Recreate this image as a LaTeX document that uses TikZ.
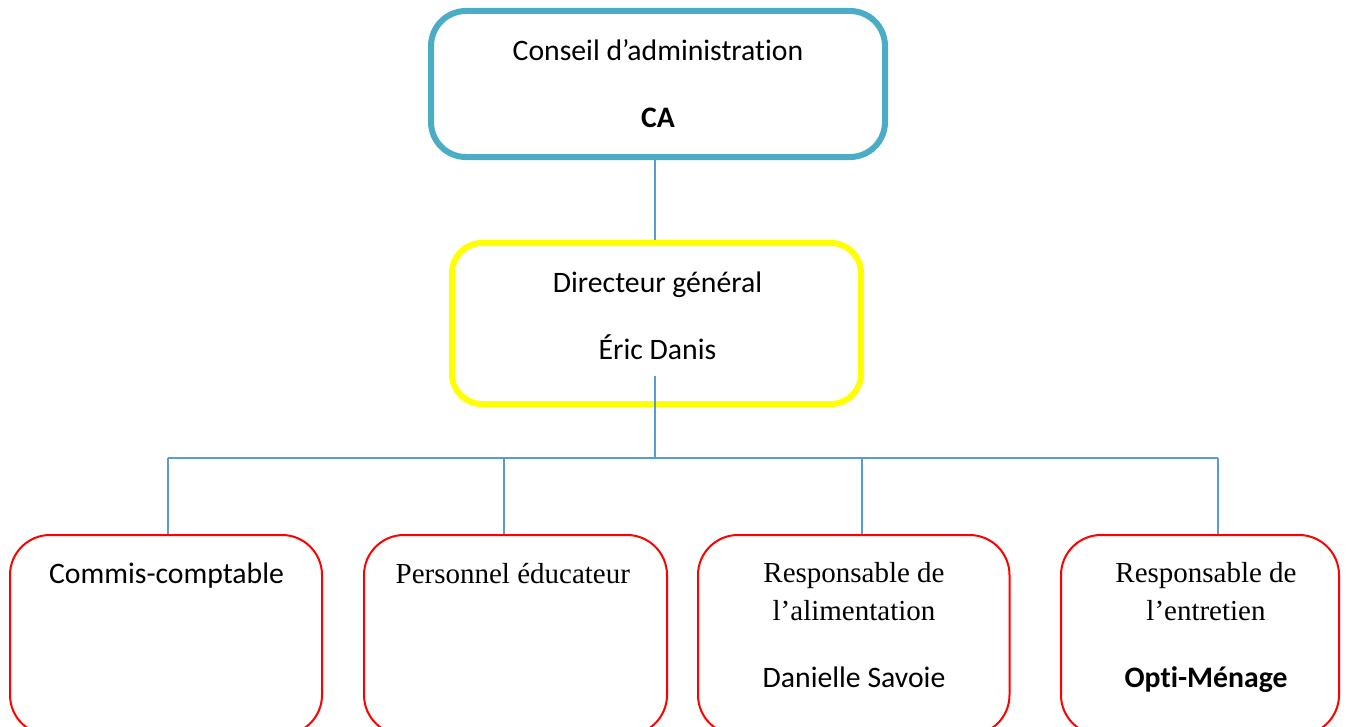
\documentclass[tikz,border=0pt]{standalone}
\usepackage{fontspec}
\setmainfont{Liberation Serif}
\newfontfamily\calfont[Scale=1.025, Ligatures=NoCommon]{Carlito}
\usetikzlibrary{positioning}
\definecolor{cacol}{RGB}{75, 172, 198}
\definecolor{dircol}{RGB}{255, 255, 0}
\definecolor{staffcol}{RGB}{255, 0, 0}
\definecolor{linkcol}{RGB}{91, 155, 213}
\tikzset{
  box/.style    = {draw, rounded corners=0.7cm, fill=white, inner sep=0pt},
  board/.style  = {box, draw=cacol, line width=0.12cm,
                   minimum width=9.08cm, minimum height=2.92cm},
  head/.style   = {box, draw=dircol, line width=0.12cm, rounded corners=0.6cm,
                   minimum width=8.18cm, minimum height=3.22cm},
  staff/.style  = {box, draw=staffcol, line width=0.04cm, rounded corners=0.8cm,
                   minimum height=4cm},
  % anchored on the baseline of the last line
  txt/.style    = {anchor=base, align=center, inner sep=0pt,
                   font=\fontsize{16.5}{21.6}\selectfont},
  link/.style   = {draw=linkcol, line width=0.04cm},
}

\begin{document}
\begin{tikzpicture}

  \useasboundingbox (0,0) rectangle (27.02,-14.52);
  \clip (0,0) rectangle (27.02,-14.52);

  %% ---------------- boxes ----------------
  \node[board] (ca)  at (13.16,-1.68) {};
  \node[head]  (dir) at (13.13,-6.47) {};
  \foreach \n/\x/\w in {cc/3.32/6.24, edu/10.31/6.06, alim/17.075/6.23, ent/24.0/5.56}
    \node[staff, minimum width=\w cm] (\n) at (\x,-12.7) {};

  %% ---------------- texts ----------------
  \node[txt] (ca-txt) at (13.16,-2.54)
       {\calfont Conseil d’administration\\[16.5pt] \calfont\bfseries CA};
  \node[txt] (dir-txt) at (13.15,-7.18)
       {\calfont Directeur général\\[16.5pt] \calfont Éric Danis};
  \node[txt] (cc-txt) at (3.33,-11.66) {\calfont Commis-comptable};
  \node[txt] (edu-txt) at (10.256,-11.66) {Personnel éducateur};
  \node[txt] (alim-txt) at (17.08,-13.74)
       {Responsable de\\ l’alimentation\\[16.5pt] \calfont Danielle Savoie};
  \node[txt] (ent-txt) at (24.12,-13.74)
       {Responsable de\\ l’entretien\\[16.5pt] \calfont\bfseries Opti-Ménage};

  %% ---------------- connectors ----------------
  \coordinate (stem) at ([xshift=-0.04cm, yshift=0.62cm]dir.south);
  \coordinate (bus)  at ([yshift=-1.02cm]dir.south);

  \draw[link] ([xshift=-0.06cm]ca.south) -- ([xshift=-0.06cm]ca.south |- dir.north);
  \draw[link] (stem) -- (stem |- bus);
  \draw[link] ([xshift=0.04cm]cc.north |- bus) -- ([xshift=0.36cm]ent.north |- bus);
  \foreach \n/\dx in {cc/0.04, edu/-0.23, alim/0.165, ent/0.36}
    \draw[link] ([xshift=\dx cm]\n.north) -- ([xshift=\dx cm]\n.north |- bus);

\end{tikzpicture}
\end{document}
